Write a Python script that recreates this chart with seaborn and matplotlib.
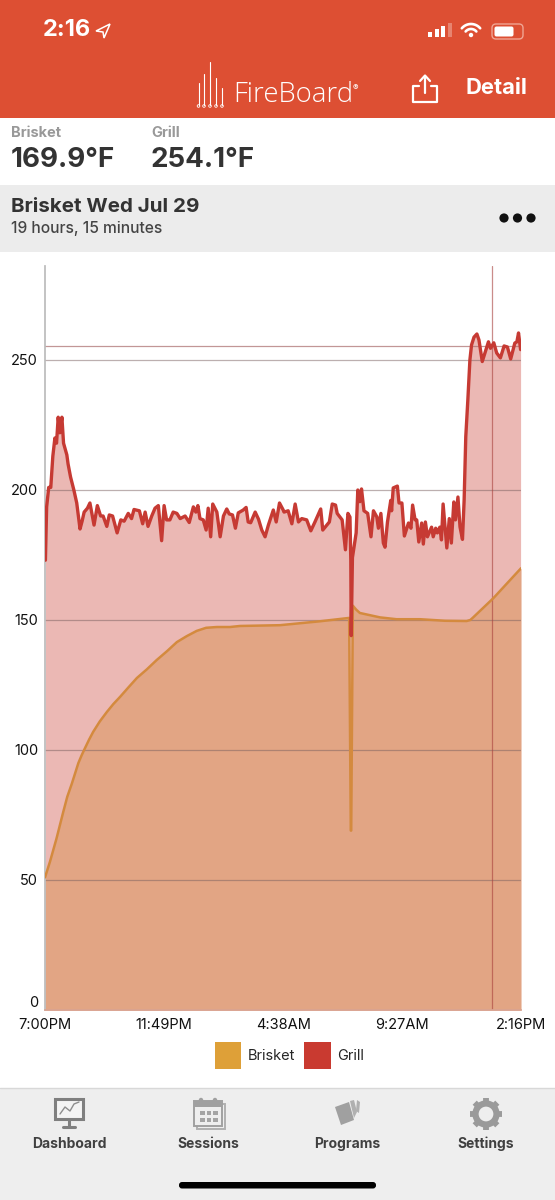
import matplotlib.pyplot as plt
import numpy as np
import pandas as pd
import seaborn as sns
from matplotlib.patches import Circle, FancyBboxPatch, Patch, Polygon, Rectangle

# minutes since 7:00PM
grill_minutes = [
    1, 4, 9, 14, 19, 24, 28, 32, 36, 41, 45, 53, 56, 62, 70, 77, 85, 90, 95, 103, 109, 119, 127,
    135, 141, 150, 156, 164, 175, 184, 192, 202, 210, 216, 229, 237, 243, 250, 259, 267, 275, 283,
    289, 295, 303, 311, 320, 328, 340, 350, 360, 366, 371, 376, 384, 391, 396, 402, 407, 417, 425,
    433, 441, 447, 455, 462, 469, 481, 488, 493, 499, 510, 518, 526, 534, 542, 554, 561, 569, 578,
    580, 590, 599, 607, 615, 623, 635, 645, 655, 669, 674, 690, 697, 705, 709, 721, 729, 735, 740,
    742, 743, 746, 755, 759, 764, 768, 774, 783, 791, 797, 805, 809, 815, 821, 825, 831, 839, 841,
    845, 855, 859, 866, 872, 882, 888, 892, 898, 902, 907, 914, 918, 923, 928, 938, 942, 948, 952,
    958, 962, 966, 975, 981, 986, 992, 996, 1002, 1007, 1013, 1017, 1021, 1026, 1031, 1035, 1041,
    1048, 1053, 1061, 1068, 1076, 1081, 1089, 1096, 1105, 1114, 1122, 1130, 1140, 1145, 1149, 1154,
]
grill_temp = [
    173, 193.5, 201, 201, 213, 220, 218, 228, 222, 228, 218, 213.5, 210, 205, 200, 195, 185, 188,
    191.5, 193, 195, 186.5, 194, 190, 190, 186, 190.4, 190, 183.5, 188.5, 188, 191, 189, 192.5,
    192, 187, 191.5, 186, 190, 193, 194, 180.5, 194, 188.5, 188.5, 191.5, 191, 189, 190, 187.5,
    193.5, 191.5, 194, 189, 188.5, 184.6, 193, 182, 194.6, 191.5, 182, 190, 192.7, 190.8, 190.4,
    185.3, 191.2, 192.3, 193.3, 187.7, 187.4, 191.5, 188.8, 184.6, 182, 186.5, 192.3, 187.7, 195,
    192.3, 191.5, 192, 187, 194.6, 187.7, 189, 188.5, 184.3, 187.7, 192.7, 184.6, 187.7, 194.6,
    194.2, 191, 188.5, 177, 191, 189.6, 173, 144, 174, 183.5, 200, 195.5, 200.4, 192, 191, 182,
    192, 189.7, 185.3, 191, 179.6, 178, 187.7, 196, 192, 200.8, 201.5, 195, 195, 182.3, 187.3,
    185.3, 194.2, 188.5, 188.5, 180, 187.3, 179.2, 187.7, 182, 185.7, 182, 185.3, 183.5, 185.7,
    180.8, 194.6, 177.7, 189, 179.6, 195.4, 188.5, 197.3, 185.8, 181, 196, 220.5, 234.6, 250,
    255.8, 258.8, 260, 257.7, 249.4, 253, 257, 254.5, 256.6, 252.7, 250.8, 255.4, 255, 250.4,
    256.5, 257, 260.4, 254,
]
brisket_minutes = [
    0, 12, 20, 28, 36, 44, 54, 65, 73, 81, 89, 97, 107, 117, 133, 150, 166, 182, 202, 223, 247,
    271, 296, 320, 344, 368, 391, 417, 449, 473, 570, 667, 738, 742, 743, 747, 755, 764, 813,
    853, 910, 971, 1023, 1032, 1039, 1088, 1155,
]
brisket_temp = [
    51, 57, 61.5, 66, 71, 76, 82, 87, 91, 95, 98, 100.7, 104, 107, 111, 114.6, 117.7, 120.4, 124,
    127.7, 131, 134.6, 138, 141.5, 143.8, 145.8, 147, 147.3, 147.3, 147.7, 148, 149.5, 150.8, 69,
    69, 155.5, 154, 152.7, 151, 150.3, 150.3, 149.7, 149.6, 150, 151, 158.4, 169.9,
]

y_ticks = [0, 50, 100, 150, 200, 250]
x_ticks = [0, 289, 578, 867, 1155]
x_tick_labels = ["7:00PM", "11:49PM", "4:38AM", "9:27AM", "2:16PM"]
cursor_minute = 1085
cursor_temp = 255.4
probe_names = ["Brisket", "Grill"]
probe_colors = ["#dea038", "#c93a30"]
footer_labels = ["Dashboard", "Sessions", "Programs", "Settings"]

RED = "#dd4f33"
FOOTER = "#eeeeee"
W, H = 555, 1200


def draw_status_and_header(ax):
    ax.add_patch(Rectangle((0, 0), W, 118, color=RED, lw=0))
    ax.add_patch(Rectangle((0, 185), W, 67, color="#ececec", lw=0))

    ax.text(43, 30, "2:16", color="white", fontsize=17, fontweight="bold", va="center")
    ax.add_patch(Polygon([[110, 24], [96, 31], [103, 32], [104, 38]], closed=True, fc="none", ec="white", lw=1.1))
    for i, h in enumerate([5, 8, 11, 14]):
        alpha = 1 if i < 3 else 0.3
        ax.add_patch(Rectangle((428 + i * 6.5, 37 - h), 4.4, h, color="white", alpha=alpha, lw=0))
    for r in [12, 7]:
        t = np.radians(np.linspace(-140, -40, 20))
        ax.plot(471 + r * np.cos(t), 36 + r * np.sin(t), color="white", lw=1.9)
    ax.add_patch(Circle((471, 35), 2.2, color="white", lw=0))
    ax.add_patch(FancyBboxPatch((492, 24), 31, 15, boxstyle="round,pad=0,rounding_size=4", fc="none", ec="#f0a593", lw=1))
    ax.add_patch(FancyBboxPatch((494.5, 26.5), 19, 10, boxstyle="round,pad=0,rounding_size=2", fc="white", ec="none"))

    # logo
    for x, top in zip([198.5, 204, 210, 216, 222], [83, 74, 62, 78, 88]):
        ax.plot([x, x], [top, 105], color="white", lw=0.8)
        ax.add_patch(Circle((x, 106), 1.3, fc="none", ec="white", lw=0.6))
    ax.text(233, 95, "FireBoard", color="white", fontsize=19.8, family="Open Sans", fontweight="light", va="center")
    ax.text(355, 88, "®", color="white", fontsize=6, va="center", ha="center")

    # share button
    ax.plot([419, 413, 413, 437, 437, 431], [86, 86, 102, 102, 86, 86], color="white", lw=1.6, solid_joinstyle="round")
    ax.plot([425, 425], [93, 76], color="white", lw=1.6)
    ax.plot([420, 425, 430], [81, 75.5, 81], color="white", lw=1.6)
    ax.text(527, 88, "Detail", color="white", fontsize=15.8, fontweight="bold", va="center", ha="right")

    ax.text(11, 133, "Brisket", color="#999999", fontsize=10.5, fontweight="bold", va="center")
    ax.text(151, 133, "Grill", color="#999999", fontsize=10.5, fontweight="bold", va="center")
    ax.text(11, 160, "169.9°F", color="#333333", fontsize=20, fontweight="bold", va="center")
    ax.text(151, 160, "254.1°F", color="#333333", fontsize=20, fontweight="bold", va="center")
    ax.text(11, 207, "Brisket Wed Jul 29", color="#333333", fontsize=14.8, fontweight="bold", va="center")
    ax.text(11, 229, "19 hours, 15 minutes", color="#444444", fontsize=11.2, fontweight="medium", va="center")
    for x in [504, 517.5, 531]:
        ax.add_patch(Circle((x, 218), 4.6, color="#111111", lw=0))


def draw_footer(ax):
    ax.add_patch(Rectangle((0, 1088), W, 112, color=FOOTER, lw=0))
    ax.plot([0, W], [1088, 1088], color="#d8d8d8", lw=1)
    grey = "#9a9a9a"

    # dashboard
    ax.add_patch(Rectangle((55, 1099), 28, 20, fc="#f4f4f4", ec="#7f7f7f", lw=2.2))
    ax.plot([60, 65, 70, 74, 79], [1114, 1107, 1111, 1104, 1102], color="#8e8e8e", lw=1)
    ax.plot([69, 69], [1119, 1127], color="#7f7f7f", lw=2.2)
    ax.plot([63, 75], [1127, 1127], color="#7f7f7f", lw=2.2)

    # sessions
    ax.add_patch(Rectangle((197, 1104), 28, 25, fc="none", ec="#b0b0b0", lw=1.4))
    ax.add_patch(Rectangle((194, 1101), 28, 25, fc="#eeeeee", ec="#a0a0a0", lw=1.4))
    ax.add_patch(Rectangle((194, 1101), 28, 6, color="#a0a0a0", lw=0))
    for x in [201, 215]:
        ax.add_patch(Circle((x, 1100), 2.2, color="#a0a0a0", lw=0))
    for row in [1111, 1118]:
        for x in [200, 206.5, 213]:
            ax.add_patch(Rectangle((x, row), 4.5, 4, color="#a4a4a4", lw=0))

    # programs
    ax.add_patch(Polygon([[357, 1100], [360, 1102], [359, 1113], [356, 1111]], closed=True, color="#b0b0b0", lw=0))
    ax.add_patch(Polygon([[350, 1101], [354, 1100], [357, 1112], [354, 1118]], closed=True, color="#b0b0b0", lw=0))
    ax.add_patch(Polygon([[335, 1107], [349, 1102], [354, 1120], [341, 1125]], closed=True, color="#a0a0a0", lw=0))

    # settings gear
    ax.add_patch(Circle((486, 1114), 10.5, fc="none", ec=grey, lw=4.5))
    for a in np.radians(np.arange(0, 360, 45)):
        ax.plot(
            [486 + 12 * np.cos(a), 486 + 16 * np.cos(a)],
            [1114 + 12 * np.sin(a), 1114 + 16 * np.sin(a)],
            color=grey,
            lw=4.2,
            solid_capstyle="butt",
        )

    for x, label in zip([69, 208, 347, 486], footer_labels):
        ax.text(x, 1144, label, color="#404040", fontsize=10, fontweight="bold", ha="center", va="center")

    ax.add_patch(FancyBboxPatch((179, 1182), 197, 6.5, boxstyle="round,pad=0,rounding_size=3", fc="black", ec="none"))


def draw_chart(ax):
    df = pd.concat(
        [
            pd.DataFrame({"minutes": brisket_minutes, "temp": brisket_temp, "probe": "Brisket"}),
            pd.DataFrame({"minutes": grill_minutes, "temp": grill_temp, "probe": "Grill"}),
        ]
    )

    ax.fill_between(grill_minutes, grill_temp, color=probe_colors[1], alpha=0.36, lw=0, zorder=1)
    ax.fill_between(brisket_minutes, brisket_temp, color="#e2a584", lw=0, zorder=1.5)

    sns.lineplot(data=df[df.probe == "Brisket"], x="minutes", y="temp", color="#d48a3e", lw=1.8, estimator=None, sort=False, ax=ax, zorder=3)
    sns.lineplot(data=df[df.probe == "Grill"], x="minutes", y="temp", color="#c63a33", lw=2.4, estimator=None, sort=False, ax=ax, zorder=4)

    for t in y_ticks[1:]:
        ax.axhline(t, color="#7a6060", alpha=0.5, lw=0.9, zorder=2)
    ax.axhline(cursor_temp, color="#a86a6a", alpha=0.7, lw=0.9, zorder=2)
    ax.axvline(cursor_minute, color="#a8403c", alpha=0.6, lw=0.9, zorder=2)

    ax.set_xlim(0, 1155)
    ax.set_ylim(0, 286.15)
    ax.set_xticks(x_ticks, x_tick_labels)
    ax.set_yticks(y_ticks)
    ax.set_xlabel("")
    ax.set_ylabel("")
    ax.tick_params(axis="both", length=0, labelsize=10.5, labelcolor="#111111")
    ax.tick_params(axis="x", pad=5.5)
    ax.tick_params(axis="y", pad=5)
    ax.patch.set_alpha(0)
    ax.grid(False)
    sns.despine(ax=ax, top=True, right=True)
    ax.spines["left"].set_color("#bbbbbb")
    ax.spines["bottom"].set_color("#d9a391")

    # nudge the zero label up so it clears the first time label
    ax.get_yticklabels()[0].set_verticalalignment("bottom")

    handles = [Patch(fc=c, ec="none") for c in probe_colors]
    ax.legend(
        handles,
        probe_names,
        loc="center",
        bbox_to_anchor=(289.5 / W, 1 - 1055.5 / H),
        bbox_transform=ax.figure.transFigure,
        ncol=2,
        frameon=False,
        fontsize=10.5,
        handlelength=1.8,
        handleheight=2.47,
        handletextpad=0.48,
        columnspacing=0.62,
        borderpad=0,
    )


sns.set_theme(style="white")
plt.rcParams["font.family"] = ["Inter", "DejaVu Sans"]

fig = plt.figure(figsize=(W / 100, H / 100), dpi=100, facecolor="white")

chrome = fig.add_axes([0, 0, 1, 1], zorder=0)
chrome.set_xlim(0, W)
chrome.set_ylim(H, 0)
chrome.axis("off")
draw_status_and_header(chrome)
draw_footer(chrome)

chart = fig.add_axes([45 / W, 1 - 1010 / H, 476 / W, 744 / H], zorder=1)
draw_chart(chart)

fig.savefig("out.png", dpi=100)
